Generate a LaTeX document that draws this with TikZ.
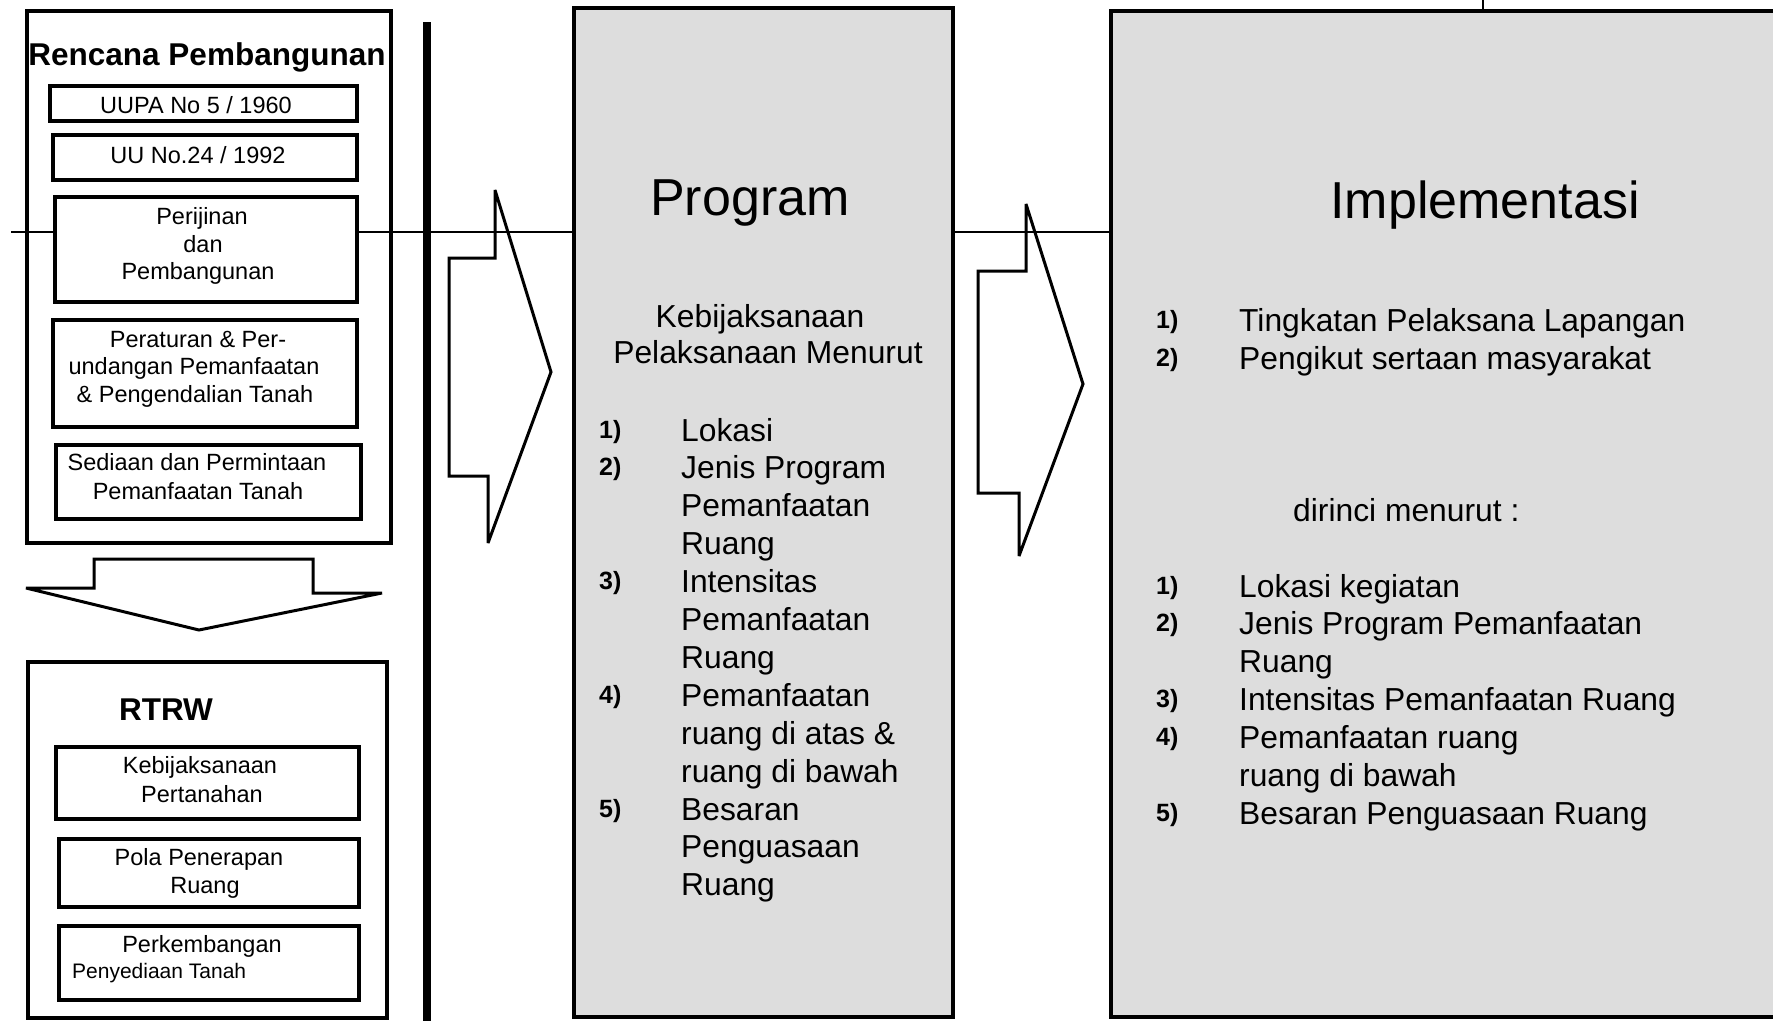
\documentclass[tikz,border=0pt]{standalone}
\usepackage{fontspec}
\setmainfont{Liberation Sans}
\definecolor{boxgray}{HTML}{DDDDDD}
\begin{document}
\begin{tikzpicture}[x=1pt,y=-1pt,
 frame/.style={draw,line width=3.5pt,inner sep=0pt,rectangle},
 inbox/.style={frame,fill=white},
 gbox/.style={frame,fill=boxgray},
 ttl/.style={anchor=base,inner sep=0pt,font=\fontsize{31.5}{36}\selectfont\bfseries},
 sm/.style={anchor=base,inner sep=0pt,font=\fontsize{23.5}{28}\selectfont},
 smaller/.style={anchor=base west,inner sep=0pt,font=\fontsize{21}{25}\selectfont},
 head/.style={anchor=base,inner sep=0pt,font=\fontsize{52}{60}\selectfont},
 mtxt/.style={anchor=base,inner sep=0pt,font=\fontsize{31.8}{38}\selectfont},
 item/.style={mtxt,anchor=base west},
 num/.style={anchor=base west,inner sep=0pt,font=\fontsize{25}{30}\selectfont\bfseries},
 conn/.style={line width=2.5pt},
 fat/.style={line width=8pt},
 bigarrow/.style={line width=3pt,line join=miter,miter limit=3}]
\useasboundingbox (0,0) rectangle (1773,1021);
\clip (0,0) rectangle (1773,1021);

% outer frames (not filled)
\node[frame,minimum width=364pt,minimum height=532pt] (rencana) at (209,277) {};
\node[frame,minimum width=359pt,minimum height=356pt] (rtrw) at (207.5,840) {};

% connector coordinates
\coordinate (lstart) at (11,232);
\coordinate (ttop) at (1483,0);
\coordinate (vtop) at (427,22);
\coordinate (vbot) at (427,1021);

% big boxes
\node[gbox,minimum width=379pt,minimum height=1009pt] (program) at (763.5,512.5) {};
\node[gbox,minimum width=689pt,minimum height=1006pt] (impl) at (1455.5,514) {};

% connectors
\draw[conn] (lstart) -- (lstart -| program.west);
\draw[conn] (program.east |- lstart) -- (lstart -| impl.west);
\draw[conn] (ttop) -- (ttop |- impl.north);
\draw[fat] (vtop) -- (vbot);

% inner boxes
\node[inbox,minimum width=307pt,minimum height=35pt] (uupa) at (203.5,103.5) {};
\node[inbox,minimum width=304pt,minimum height=45pt] (uu24) at (205,157.5) {};
\node[inbox,minimum width=302pt,minimum height=105pt] (perijinan) at (206,249.5) {};
\node[inbox,minimum width=304pt,minimum height=107pt] (peraturan) at (205,373.5) {};
\node[inbox,minimum width=305pt,minimum height=74pt] (sediaan) at (208.5,482) {};
\node[inbox,minimum width=303pt,minimum height=72pt] (kebijak) at (207.5,783) {};
\node[inbox,minimum width=300pt,minimum height=68pt] (pola) at (209,873) {};
\node[inbox,minimum width=300pt,minimum height=74pt] (perkemb) at (209,963) {};

% block arrows
\draw[bigarrow] (94,559) -- (94,588) -- (26,588) -- (199,630) -- (382,593) -- (313,593) -- (313,559) -- cycle;
\draw[bigarrow] (495,190) -- (551,372) -- (488,543) -- (488,476) -- (449,476) -- (449,258) -- (495,258) -- cycle;
\draw[bigarrow] (1026,204) -- (1083,384) -- (1019,556) -- (1019,493) -- (978,493) -- (978,271) -- (1026,271) -- cycle;

% left texts
\node[ttl] (t-rencana) at (207,65) {Rencana Pembangunan};
\node[sm] (t-uupa) at (196,113) {UUPA No 5 / 1960};
\node[sm] (t-uu24) at (198,163) {UU No.24 / 1992};
\node[sm] (t-per1) at (202,224) {Perijinan};
\node[sm] (t-per2) at (203,252) {dan};
\node[sm] (t-per3) at (198,279) {Pembangunan};
\node[sm] (t-pr1) at (198,347) {Peraturan \& Per-};
\node[sm] (t-pr2) at (194,374) {undangan Pemanfaatan};
\node[sm] (t-pr3) at (195,402) {\& Pengendalian Tanah};
\node[sm] (t-sd1) at (197,470) {Sediaan dan Permintaan};
\node[sm] (t-sd2) at (198,499) {Pemanfaatan Tanah};
\node[ttl] (t-rtrw) at (166,720) {RTRW};
\node[sm] (t-kb1) at (200,773) {Kebijaksanaan};
\node[sm] (t-kb2) at (202,802) {Pertanahan};
\node[sm] (t-pl1) at (199,865) {Pola Penerapan};
\node[sm] (t-pl2) at (205,893) {Ruang};
\node[sm] (t-pk1) at (202,952) {Perkembangan};
\node[smaller] (t-pk2) at (72,978) {Penyediaan Tanah};

% program texts
\node[head] (t-program) at (750,215) {Program};
\node[mtxt] (t-keb) at (760,327) {Kebijaksanaan};
\node[mtxt] (t-pel) at (768,363) {Pelaksanaan Menurut};
\foreach \i/\t in {0/Lokasi,1/Jenis Program,2/Pemanfaatan,3/Ruang,4/Intensitas,5/Pemanfaatan,6/Ruang,7/Pemanfaatan,8/{ruang di atas \&},9/ruang di bawah,10/Besaran,11/Penguasaan,12/Ruang}
  \node[item] (pi\i) at (681,{441+37.9*\i}) {\t};
\foreach \i/\n in {0/1,1/2,4/3,7/4,10/5}
  \node[num] (pn\n) at (599,{438+37.9*\i}) {\n)};

% implementasi texts
\node[head] (t-impl) at (1485,218) {Implementasi};
\node[num] (in1) at (1156,328) {1)};
\node[item] (ia1) at (1239,331) {Tingkatan Pelaksana Lapangan};
\node[num] (in2) at (1156,366) {2)};
\node[item] (ia2) at (1239,369) {Pengikut sertaan masyarakat};
\node[item] (t-dir) at (1293,521) {dirinci menurut :};
\foreach \i/\t in {0/Lokasi kegiatan,1/Jenis Program Pemanfaatan,2/Ruang,3/Intensitas Pemanfaatan Ruang,4/Pemanfaatan ruang,5/ruang di bawah,6/Besaran Penguasaan Ruang}
  \node[item] (ib\i) at (1239,{597+37.9*\i}) {\t};
\foreach \i/\n in {0/1,1/2,3/3,4/4,6/5}
  \node[num] (ibn\n) at (1156,{594+37.9*\i}) {\n)};
\end{tikzpicture}
\end{document}
